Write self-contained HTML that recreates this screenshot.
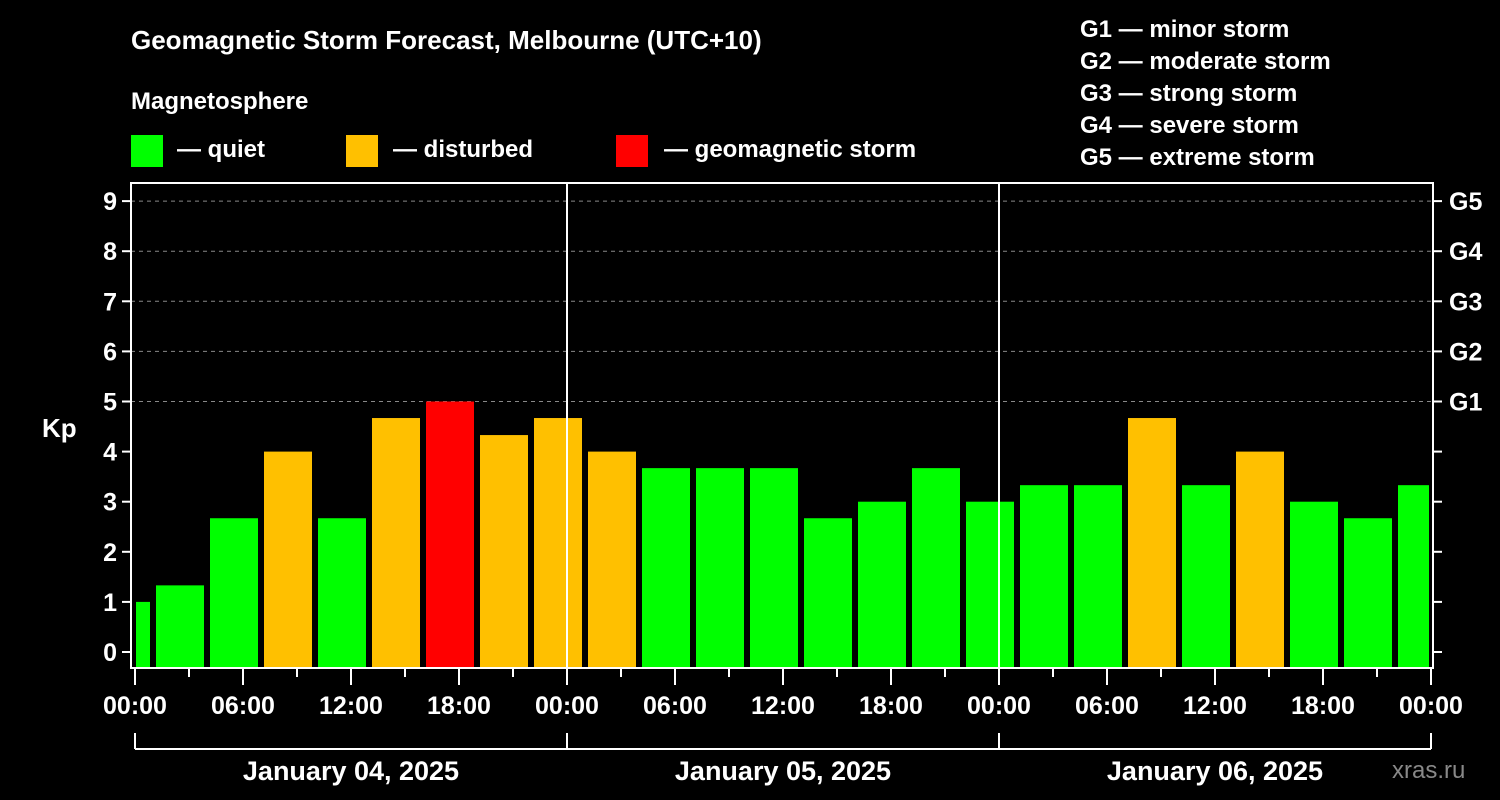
<!DOCTYPE html>
<html><head><meta charset="utf-8"><style>
html,body{margin:0;padding:0;background:#000;}
svg{display:block;font-family:"Liberation Sans",Arial,sans-serif;font-weight:bold;}
</style></head><body>
<svg id="chart" width="1500" height="800">
<rect x="0" y="0" width="1500" height="800" fill="#000"/>
<text x="131" y="49" fill="#fff" font-size="26">Geomagnetic Storm Forecast, Melbourne (UTC+10)</text>
<text x="131" y="109" fill="#fff" font-size="24">Magnetosphere</text>
<g><rect x="131" y="135" width="32" height="32" fill="#00ff00"/><text x="177" y="157" fill="#fff" font-size="24">— quiet</text></g>
<g><rect x="346" y="135" width="32" height="32" fill="#ffc000"/><text x="393" y="157" fill="#fff" font-size="24">— disturbed</text></g>
<g><rect x="616" y="135" width="32" height="32" fill="#ff0000"/><text x="664" y="157" fill="#fff" font-size="24">— geomagnetic storm</text></g>
<g fill="#fff" font-size="24">
<text x="1080" y="37">G1 — minor storm</text>
<text x="1080" y="69">G2 — moderate storm</text>
<text x="1080" y="101">G3 — strong storm</text>
<text x="1080" y="133">G4 — severe storm</text>
<text x="1080" y="165">G5 — extreme storm</text>
</g>
<text x="42" y="437" fill="#fff" font-size="26">Kp</text>
<text x="1392" y="778" fill="#888" font-size="24" font-weight="normal">xras.ru</text>
<g id="grid"></g><g id="bars"></g><g id="axes"></g>
</svg>
<script>
const kpValues=[1.0,1.33,2.67,4.0,2.67,4.67,5.0,4.33,4.67,4.0,3.67,3.67,3.67,2.67,3.0,3.67,3.0,3.33,3.33,4.67,3.33,4.0,3.0,2.67,3.33];
const binStartHours=[-2,1,4,7,10,13,16,19,22,25,28,31,34,37,40,43,46,49,52,55,58,61,64,67,70];
const xTickLabels=["00:00","06:00","12:00","18:00","00:00","06:00","12:00","18:00","00:00","06:00","12:00","18:00","00:00"];
const dateLabels=["January 04, 2025","January 05, 2025","January 06, 2025"];
const gLabels=["G1","G2","G3","G4","G5"];
const NS="http://www.w3.org/2000/svg";
const X0=135,PXH=18,H0=652,PXK=50.1,TOP=183,BOT=668,LEFT=131,RIGHT=1433;
const xs=h=>X0+h*PXH, ys=k=>H0-k*PXK;
function mk(t,a,p){const e=document.createElementNS(NS,t);for(const k in a)e.setAttribute(k,a[k]);p.appendChild(e);return e;}
const grid=document.getElementById('grid'),bars=document.getElementById('bars'),axes=document.getElementById('axes');
for(let k=5;k<=9;k++){const l=mk('line',{x1:LEFT,x2:RIGHT,y1:ys(k),y2:ys(k),stroke:'#888','stroke-dasharray':'4,4'},grid);

}
kpValues.forEach((v,i)=>{const h0=binStartHours[i],h1=Math.min(h0+3,72);
let x1=xs(h0)+3,x2=xs(h1)-3;if(h0<0)x1=xs(0)+1;if(h1>=72)x2=xs(72)-2;
const c=v>=5?'#ff0000':(v>=4?'#ffc000':'#00ff00');
const r=mk('rect',{x:x1,y:ys(v),width:x2-x1,height:BOT-ys(v),fill:c},bars);

});
const W='#fff';
const frame=mk('rect',{x:LEFT,y:TOP,width:RIGHT-LEFT,height:BOT-TOP,fill:'none',stroke:W,'stroke-width':2},axes);


[24,48].forEach(h=>{const l=mk('line',{x1:xs(h),x2:xs(h),y1:TOP,y2:BOT,stroke:W,'stroke-width':2},axes);

});
for(let k=0;k<=9;k++){mk('line',{x1:LEFT-9,x2:LEFT,y1:ys(k),y2:ys(k),stroke:W,'stroke-width':2},axes);
mk('line',{x1:RIGHT,x2:RIGHT+9,y1:ys(k),y2:ys(k),stroke:W,'stroke-width':2},axes);
const t=mk('text',{x:LEFT-14,y:ys(k)+9,fill:W,'font-size':25,'text-anchor':'end'},axes);t.textContent=k;


if(k>=5){const g=mk('text',{x:1449,y:ys(k)+9,fill:W,'font-size':25},axes);g.textContent=gLabels[k-5];

}}
for(let h=0;h<=72;h+=3){const major=h%6===0;
mk('line',{x1:xs(h),x2:xs(h),y1:BOT+1,y2:major?BOT+17:BOT+9,stroke:W,'stroke-width':2},axes);
if(major){const t=mk('text',{x:xs(h),y:714,fill:W,'font-size':25,'text-anchor':'middle'},axes);t.textContent=xTickLabels[h/6];

}}
mk('line',{x1:xs(0),x2:xs(72),y1:749,y2:749,stroke:W,'stroke-width':2},axes);
[0,24,48,72].forEach(h=>mk('line',{x1:xs(h),x2:xs(h),y1:733,y2:749,stroke:W,'stroke-width':2},axes));
dateLabels.forEach((d,i)=>{const t=mk('text',{x:xs(i*24+12),y:780,fill:W,'font-size':27,'text-anchor':'middle'},axes);t.textContent=d;

});
</script>
</body></html>
